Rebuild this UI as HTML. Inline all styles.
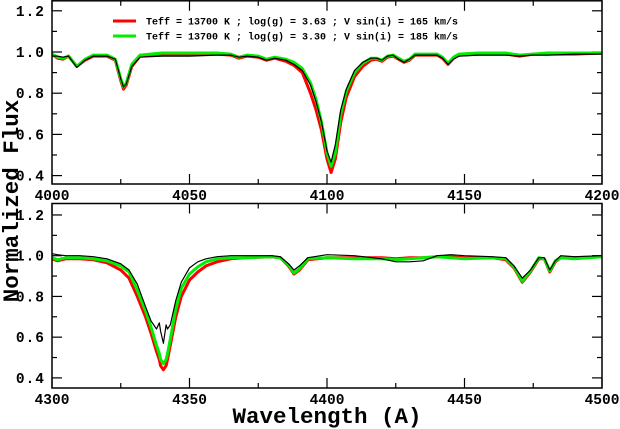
<!DOCTYPE html>
<html><head><meta charset="utf-8"><style>
html,body{margin:0;padding:0;background:#fff;}
svg{display:block;}
text{font-family:"Liberation Mono",monospace;}
</style></head><body>
<svg id="chart" width="620" height="429" viewBox="0 0 620 429" xmlns="http://www.w3.org/2000/svg"></svg>
<script>
// Top panel data (4000-4200 A)
const topWave = [4000,4002,4004,4006,4009,4012,4015,4020,4023,4025,4026,4027,4029,4032,4040,4050,4060,4065,4068,4071,4075,4078,4081,4085,4088,4091,4094,4096,4098,4100,4101.5,4103,4105,4107,4110,4113,4116,4118,4120,4122,4124,4126,4128,4130,4132,4140,4142,4144,4146,4148,4155,4165,4170,4175,4180,4190,4200];
const topRed = [0.99,0.97,0.965,0.98,0.93,0.96,0.98,0.98,0.96,0.86,0.82,0.84,0.93,0.98,0.99,0.99,0.99,0.985,0.97,0.98,0.975,0.96,0.97,0.955,0.935,0.90,0.80,0.72,0.62,0.48,0.415,0.48,0.66,0.78,0.88,0.93,0.96,0.965,0.955,0.975,0.98,0.965,0.95,0.96,0.985,0.985,0.97,0.94,0.97,0.985,0.99,0.99,0.98,0.99,0.99,0.99,0.995];
const topGreen = [0.99,0.975,0.97,0.98,0.93,0.965,0.985,0.985,0.965,0.87,0.83,0.85,0.94,0.985,0.995,0.995,0.995,0.99,0.975,0.985,0.98,0.965,0.975,0.965,0.95,0.92,0.85,0.77,0.66,0.51,0.445,0.51,0.70,0.81,0.90,0.945,0.97,0.97,0.96,0.98,0.985,0.97,0.955,0.965,0.99,0.99,0.975,0.945,0.975,0.99,0.995,0.995,0.985,0.99,0.995,0.995,0.995];
const topBlack = [0.98,0.98,0.975,0.98,0.925,0.96,0.98,0.98,0.965,0.87,0.83,0.845,0.93,0.975,0.98,0.98,0.985,0.985,0.975,0.98,0.975,0.96,0.97,0.96,0.94,0.91,0.84,0.76,0.66,0.52,0.465,0.55,0.72,0.82,0.91,0.95,0.97,0.97,0.96,0.98,0.985,0.965,0.95,0.965,0.985,0.985,0.97,0.94,0.965,0.98,0.985,0.985,0.98,0.985,0.985,0.99,0.99];
// Bottom panel data (4300-4500 A)
const botWave = [4300,4302,4305,4310,4315,4320,4325,4328,4331,4334,4336,4338,4339,4339.5,4340.5,4341.5,4342,4343,4345,4347,4350,4353,4356,4360,4365,4370,4380,4383,4386,4388,4390,4393,4400,4410,4420,4425,4430,4435,4440,4445,4450,4460,4465,4468,4471,4474,4477,4479,4481,4483,4485,4490,4500];
const botRed = [0.985,0.975,0.985,0.985,0.98,0.965,0.93,0.89,0.80,0.70,0.62,0.53,0.49,0.46,0.44,0.46,0.49,0.56,0.70,0.80,0.88,0.92,0.95,0.97,0.985,0.99,0.995,0.99,0.95,0.91,0.93,0.98,0.99,0.99,0.99,0.985,0.99,0.99,0.995,0.995,0.99,0.99,0.98,0.94,0.87,0.92,0.985,0.985,0.92,0.97,0.99,0.99,0.995];
const botGreen = [0.99,0.98,0.99,0.99,0.985,0.975,0.95,0.92,0.83,0.73,0.65,0.56,0.52,0.49,0.47,0.49,0.52,0.59,0.74,0.84,0.91,0.945,0.97,0.985,0.99,0.99,0.995,0.99,0.955,0.915,0.935,0.985,0.99,0.985,0.985,0.98,0.985,0.99,0.995,0.99,0.985,0.99,0.985,0.945,0.875,0.925,0.99,0.985,0.925,0.975,0.99,0.985,0.995];
const botBlack = [1.01,1.005,1.0,1.0,0.995,0.985,0.96,0.93,0.86,0.75,0.68,0.64,0.67,0.63,0.57,0.66,0.64,0.66,0.78,0.87,0.94,0.97,0.985,0.995,1.0,1.0,1.0,0.995,0.96,0.93,0.95,0.99,1.005,1.0,0.985,0.97,0.97,0.975,1.0,1.005,1.0,0.995,0.99,0.95,0.89,0.93,0.99,0.99,0.93,0.975,1.0,0.995,1.0];
const yTicks = ["0.4","0.6","0.8","1.0","1.2"];
const topXTicks = ["4000","4050","4100","4150","4200"];
const botXTicks = ["4300","4350","4400","4450","4500"];
const legendLabels = ["Teff = 13700 K ; log(g) = 3.63 ; V sin(i) = 165 km/s","Teff = 13700 K ; log(g) = 3.30 ; V sin(i) = 185 km/s"];

const NS="http://www.w3.org/2000/svg";
const svg=document.getElementById('chart');
function mk(tag,attrs,parent){const e=document.createElementNS(NS,tag);for(const k in attrs)e.setAttribute(k,attrs[k]);(parent||svg).appendChild(e);return e;}

const L=52,R=602;
function panel(name,top,bottom,y10px,y04px,x0,x1,wave,red,green,black,xt){
  const g=mk('g',{});
  
  
  const xs=v=>L+(v-x0)/(x1-x0)*(R-L);
  const ys=v=>y10px+(1-v)*(y04px-y10px)/0.6;
  for(let i=0;i<=8;i++){
    const v=x0+i*(x1-x0)/8, x=xs(v), len=(i%2==0)?10:5;
    mk('line',{x1:x,y1:bottom,x2:x,y2:bottom-len,stroke:'#000','stroke-width':1.2},g);
    mk('line',{x1:x,y1:top,x2:x,y2:top+len,stroke:'#000','stroke-width':1.2},g);
  }
  for(let i=0;i<=8;i++){
    const v=0.4+i*0.1, y=ys(v); if(y<top||y>bottom)continue;
    const len=(i%2==0)?10:5;
    mk('line',{x1:L,y1:y,x2:L+len,y2:y,stroke:'#000','stroke-width':1.2},g);
    mk('line',{x1:R,y1:y,x2:R-len,y2:y,stroke:'#000','stroke-width':1.2},g);
  }
  yTicks.forEach(t=>{
    const tx=mk('text',{x:45,y:ys(parseFloat(t))+5,'text-anchor':'end','font-size':14.5,'font-weight':'bold','letter-spacing':'1'},g);
    
    
    tx.textContent=t;
  });
  xt.forEach(t=>{
    const tx=mk('text',{x:xs(parseFloat(t)),y:bottom+16,'text-anchor':'middle','font-size':14.5,'font-weight':'bold'},g);
    
    
    tx.textContent=t;
  });
  const clip='clip-'+name;
  const cp=mk('clipPath',{id:clip},g);mk('rect',{x:L,y:top,width:R-L,height:bottom-top},cp);
  [[red,'#ff0000',3,'model-red-line'],[green,'#00ee00',3,'model-green-line'],[black,'#000',1.2,'observed-line']].forEach(([arr,c,w,n])=>{
    const d=wave.map((v,i)=>(i?'L':'M')+xs(v).toFixed(1)+' '+ys(arr[i]).toFixed(1)).join(' ');
    const p=mk('path',{d:d,fill:'none',stroke:c,'stroke-width':w,'stroke-linejoin':'round','clip-path':'url(#'+clip+')'},g);
    
    
  });
  const fr=mk('rect',{x:L,y:top,width:R-L,height:bottom-top,fill:'none',stroke:'#000','stroke-width':1.5},g);
  
  
  return g;
}
panel('top-panel',0.8,184,52,175.6,4000,4200,topWave,topRed,topGreen,topBlack,topXTicks);
panel('bottom-panel',203.5,388,255.7,377.9,4300,4500,botWave,botRed,botGreen,botBlack,botXTicks);

const lg=mk('g',{});


[['#ff0000',21],['#00ee00',36]].forEach(([c,y],i)=>{
  const ln=mk('line',{x1:113,y1:y,x2:136,y2:y,stroke:c,'stroke-width':3},lg);
  
  
  const t=mk('text',{x:146,y:y+3.5,'font-size':10,'font-weight':'bold'},lg);
  
  
  t.textContent=legendLabels[i];
});
const xt=mk('text',{x:327,y:423,'text-anchor':'middle','font-size':22.5,'font-weight':'bold'});


xt.textContent='Wavelength (A)';
const yt=mk('text',{x:0,y:0,'text-anchor':'middle','font-size':22.5,'font-weight':'bold',transform:'translate(18,201) rotate(-90)'});


yt.textContent='Normalized Flux';
</script>
</body></html>
